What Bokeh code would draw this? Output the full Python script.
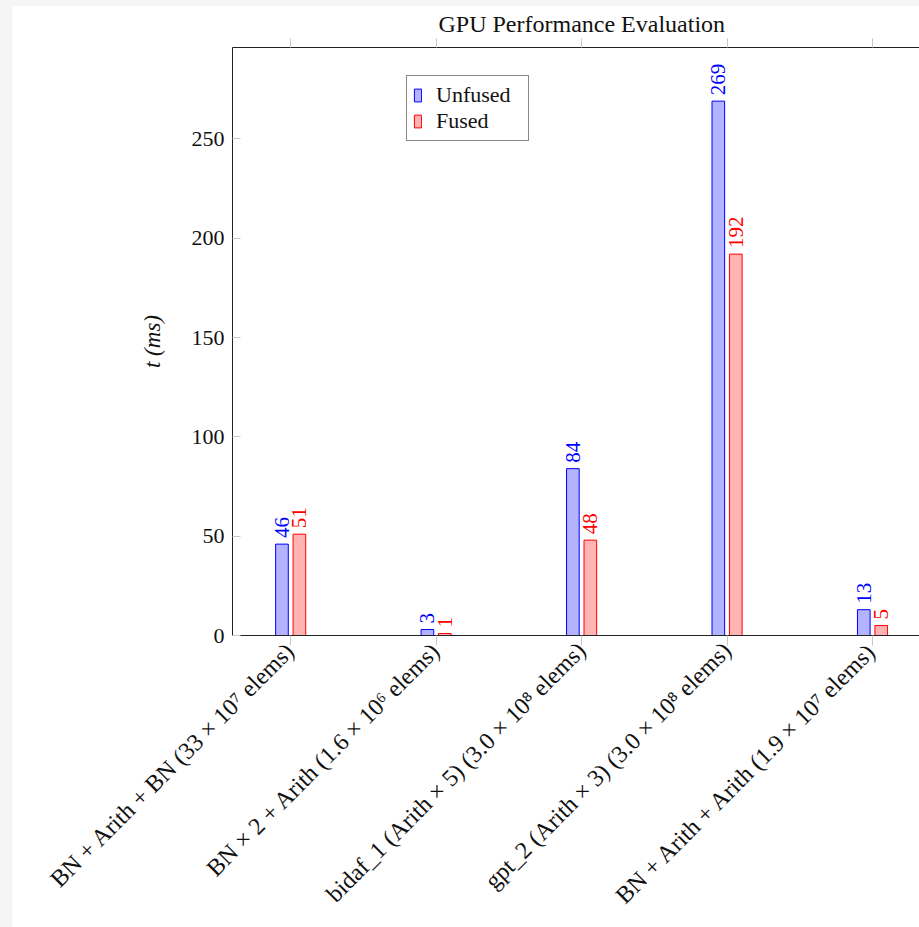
import math
from bokeh.plotting import figure
from bokeh.models import (ColumnDataSource, Range1d, FixedTicker, LinearAxis,
                          Legend, LegendItem, Title)
from bokeh.transform import dodge
from bokeh.core.properties import value
from bokeh.layouts import column
from bokeh.embed import file_html
from bokeh.resources import INLINE

# Benchmark kernels and their measured run times (ms)
categories = [
    "BN + Arith + BN (33 × 10⁷ elems)",
    "BN × 2 + Arith (1.6 × 10⁶ elems)",
    "bidaf_1 (Arith × 5) (3.0 × 10⁸ elems)",
    "gpt_2 (Arith × 3) (3.0 × 10⁸ elems)",
    "BN + Arith + Arith (1.9 × 10⁷ elems)",
]
unfused = [46, 3, 84, 269, 13]
fused = [51, 1, 48, 192, 5]
y_ticks = [0, 50, 100, 150, 200, 250]

FONT = "Liberation Serif"
BLUE = "#0000ff"
RED = "#ff0000"
INK = "#111111"

xs = list(range(len(categories)))
src = ColumnDataSource(dict(
    x=xs,
    unfused=unfused,
    fused=fused,
    unfused_txt=[str(v) for v in unfused],
    fused_txt=[str(v) for v in fused],
))

p = figure(
    width=907, height=922,
    output_backend="svg", toolbar_location=None,
    x_range=Range1d(-0.4, 4.323), y_range=Range1d(0, 296),
    min_border_left=220, min_border_right=0,
    min_border_top=42, min_border_bottom=292,
)
p.title = Title(text="GPU Performance Evaluation", align="left",
                text_font=FONT, text_font_size="24px", text_font_style="normal",
                text_color=INK, offset=206, standoff=4)
p.outline_line_color = None
p.xgrid.visible = False
p.ygrid.visible = False
p.background_fill_color = "white"
p.border_fill_color = "white"

OFF = 0.06
W = 0.087
r_unf = p.vbar(x=dodge("x", -OFF), top="unfused", width=W, source=src,
               fill_color="#b3b3ff", line_color=BLUE, line_width=1)
r_fus = p.vbar(x=dodge("x", OFF), top="fused", width=W, source=src,
               fill_color="#ffb3b3", line_color=RED, line_width=1)

# value labels above each bar
p.text(x=dodge("x", -OFF), y="unfused", text="unfused_txt", source=src,
       angle=math.pi / 2, text_align="left", text_baseline="middle",
       y_offset=-6, text_color=BLUE, text_font=value(FONT),
       text_font_size="21px")
p.text(x=dodge("x", OFF), y="fused", text="fused_txt", source=src,
       angle=math.pi / 2, text_align="left", text_baseline="middle",
       y_offset=-6, text_color=RED, text_font=value(FONT),
       text_font_size="21px")

# bottom category axis
xa = p.xaxis[0]
xa.ticker = FixedTicker(ticks=xs)
xa.major_label_overrides = {i: c for i, c in zip(xs, categories)}
xa.major_label_orientation = math.pi / 4
xa.major_label_text_font = FONT
xa.major_label_text_font_size = "24px"
xa.major_label_text_color = INK
xa.major_label_standoff = 1
xa.major_tick_in = 0
xa.major_tick_out = 10
xa.major_tick_line_color = "#c8c8c8"
xa.minor_tick_line_color = None
xa.axis_line_color = "#222222"

# value axis
ya = p.yaxis[0]
ya.ticker = FixedTicker(ticks=y_ticks)
ya.major_label_text_font = FONT
ya.major_label_text_font_size = "22px"
ya.major_label_text_color = INK
ya.major_label_standoff = 8
ya.major_tick_in = 8
ya.major_tick_out = 0
ya.major_tick_line_color = "#c8c8c8"
ya.minor_tick_line_color = None
ya.axis_line_color = "#222222"
ya.axis_label = "t (ms)"
ya.axis_label_text_font = FONT
ya.axis_label_text_font_size = "23px"
ya.axis_label_text_font_style = "italic"
ya.axis_label_text_color = INK
ya.axis_label_standoff = 24

# top frame edge with category ticks (no labels)
top = LinearAxis(ticker=FixedTicker(ticks=xs))
top.major_label_text_color = None
top.major_label_standoff = 0
top.major_tick_in = 0
top.major_tick_out = 9
top.major_tick_line_color = "#c8c8c8"
top.minor_tick_line_color = None
top.axis_line_color = "#222222"
p.add_layout(top, "above")

legend = Legend(
    items=[LegendItem(label="Unfused", renderers=[r_unf]),
           LegendItem(label="Fused", renderers=[r_fus])],
    location=(174, 494),
    label_text_font=FONT, label_text_font_size="22px",
    label_text_color=INK, label_width=86,
    glyph_width=9, glyph_height=16,
    label_standoff=14, spacing=0, padding=6, margin=0,
    border_line_color=INK, border_line_width=1,
    background_fill_alpha=1,
)
p.add_layout(legend, "center")

layout = column(p, styles={"background-color": "#f5f5f5",
                           "padding-left": "12px", "padding-top": "5px"})

open("out.html", "w").write(file_html(layout, INLINE))
